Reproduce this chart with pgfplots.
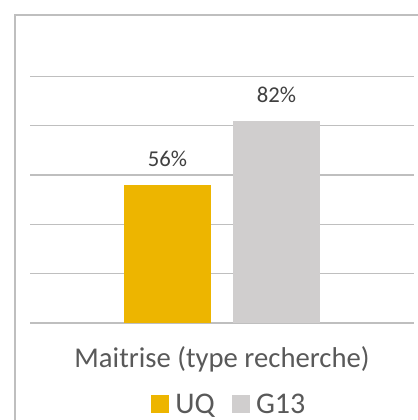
\documentclass[border=0pt]{standalone}
\usepackage{pgfplots}
\pgfplotsset{compat=1.18}
\usepackage{fontspec}
\setmainfont{Carlito}
\definecolor{uq}{HTML}{EDB500}
\definecolor{gt}{HTML}{D0CECE}
\definecolor{grid}{HTML}{D9D9D9}
\definecolor{frame}{HTML}{BFBFBF}
\definecolor{txt}{HTML}{595959}
\definecolor{lbl}{HTML}{404040}
\begin{document}
\begin{tikzpicture}
\useasboundingbox (0pt,0pt) rectangle (312.75pt,315pt);
\draw[frame,line width=1.5pt] (11.25pt,-2pt) -- (11.25pt,303.75pt) -- (314pt,303.75pt);
\begin{axis}[
  at={(22.5pt,72.75pt)}, anchor=south west,
  scale only axis, width=288pt, height=184.9pt,
  xmin=-1, xmax=1, ymin=0, ymax=100,
  ybar=16.5pt, bar width=65.25pt,
  axis line style={draw=none},
  major tick length=0pt,
  xtick style={draw=none}, ytick style={draw=none},
  xmajorgrids=false,
  ytick={0,20,40,60,80,100}, yticklabels={},
  ymajorgrids, grid style={grid, line width=1pt},
  xtick={0}, xticklabels={Maitrise (type recherche)},
  xticklabel style={font=\fontsize{21.5}{24}\selectfont, text=txt, yshift=-14pt},
  /pgf/number format/assume math mode=true,
  nodes near coords={\pgfmathprintnumber{\pgfplotspointmeta}\%},
  nodes near coords style={font=\fontsize{17}{20}\selectfont, text=lbl, yshift=10pt},
  legend style={at={(0.52,-0.33)}, anchor=center, draw=none, fill=none,
    legend columns=2, font=\fontsize{22.5}{25}\selectfont, text=txt,
    /tikz/every odd column/.append style={column sep=2.5pt},
    /tikz/every even column/.append style={column sep=11pt}},
  legend image code/.code={\fill[#1] (0pt,-6.75pt) rectangle (13.5pt,6.75pt);},
  clip=false,
]
\addplot[fill=uq, draw=none] coordinates {(0,56)};
\addplot[fill=gt, draw=none] coordinates {(0,82)};
\legend{UQ,G13}
\end{axis}
\end{tikzpicture}
\end{document}
